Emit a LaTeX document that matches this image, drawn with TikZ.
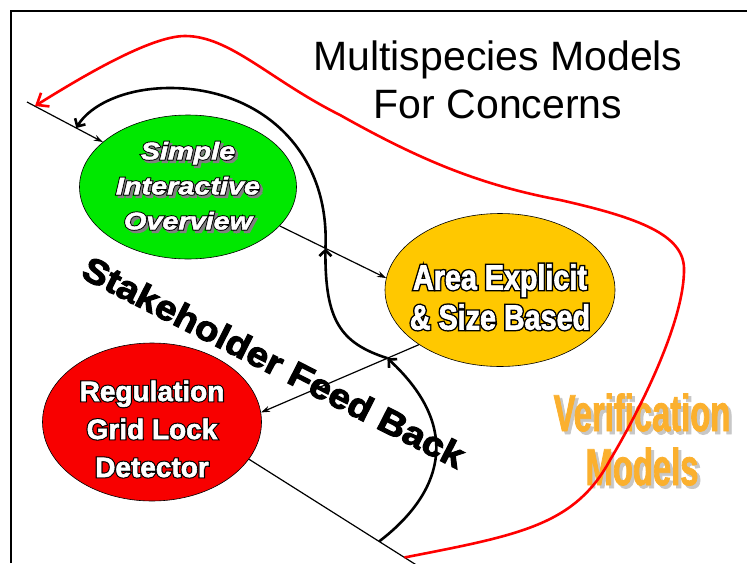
\documentclass[tikz,border=0pt]{standalone}
\usepackage{fontspec}
\setmainfont{Liberation Sans}
\newfontfamily\gridfont[BoldFeatures={FakeBold=2}]{Liberation Sans}
\newfontfamily\gridback[BoldFeatures={FakeBold=10}]{Liberation Sans}
\newfontfamily\areafont[FakeStretch=0.82,BoldFeatures={FakeBold=2}]{Liberation Sans}
\newfontfamily\areaback[FakeStretch=0.82,BoldFeatures={FakeBold=10}]{Liberation Sans}
\newfontfamily\simplefont[FakeStretch=1.2,BoldItalicFeatures={FakeBold=2}]{Liberation Sans}
\newfontfamily\simpleback[FakeStretch=1.2,BoldItalicFeatures={FakeBold=10}]{Liberation Sans}
\newfontfamily\heavyfont[FakeStretch=1.1,BoldFeatures={FakeBold=3}]{Liberation Sans}
\newfontfamily\condfont[FakeStretch=0.63,BoldFeatures={FakeBold=1.5}]{Liberation Sans}
\usetikzlibrary{shapes.geometric,arrows.meta}

\definecolor{simplegreen}{HTML}{00E800}
\definecolor{areayellow}{HTML}{FFC800}
\definecolor{gridred}{HTML}{F80000}
\definecolor{verifyorange}{HTML}{FBB02E}

% white letters on a fattened black copy
\newcommand\rimtext[3][0pt]{\leavevmode\raisebox{-#1}[\height][\depth]{%
  \rlap{\color{black}#2#3}\textcolor{white}{#3}}}
\newcommand\shadetext[2]{\leavevmode
  \rlap{\hspace*{2.5pt}\raisebox{-2.5pt}{\color{gray}#1#2}}\rimtext{#1}{#2}}
\newcommand\verifytext[1]{\leavevmode
  \rlap{\hspace*{3pt}\raisebox{-3pt}{\color{black!22}#1}}\textcolor{verifyorange}{#1}}

\begin{document}
\begin{tikzpicture}[
  x=1pt, y=-1pt,
  blob/.style={draw, ellipse, line width=0.6pt, inner xsep=-25pt, inner ysep=-10pt, fill=#1},
  link/.style={-{Stealth[length=9pt,width=6pt]}, line width=1.2pt},
  loopback/.style={-{Straight Barb[length=6pt,width=12pt]}, line width=2.6pt},
  verify/.style={-{Straight Barb[length=10pt,width=16pt]}, draw=red, line width=2.6pt}
]
\useasboundingbox (0,0) rectangle (747,563);
\clip (0,0) rectangle (747,563);
\draw[line width=2pt] (11,563) -- (11,11) -- (747,11);

% ellipses
\node[blob=simplegreen, minimum width=217pt, minimum height=144pt, align=center,
  font=\simplefont\bfseries\itshape\fontsize{24}{35}\selectfont] (simple) at (188,187)
  {\shadetext{\simpleback}{Simple}\\\shadetext{\simpleback}{Interactive}\\
   \shadetext{\simpleback}{Overview}};
\node[blob=areayellow, minimum width=230pt, minimum height=153pt, align=center,
  font=\areafont\bfseries\fontsize{35}{40}\selectfont] (area) at (500,290)
  {\rimtext[7pt]{\areaback}{Area Explicit}\\\rimtext[7pt]{\areaback}{\& Size Based}};
\node[blob=gridred, minimum width=219pt, minimum height=158pt, align=center,
  font=\gridfont\bfseries\fontsize{28}{38}\selectfont] (regulation) at (152,422)
  {\rimtext[7pt]{\gridback}{Regulation}\\\rimtext[7pt]{\gridback}{Grid Lock}\\
   \rimtext[7pt]{\gridback}{Detector}};

% texts
\node[align=center, font=\fontsize{41}{48}\selectfont] (title) at (498,80)
  {Multispecies Models\\For Concerns};
\node[rotate=-27, font=\heavyfont\bfseries\fontsize{35}{40}\selectfont] (fblabel) at (274,362)
  {Stakeholder Feed Back};
\node[align=center, font=\condfont\bfseries\fontsize{52}{54}\selectfont] (verif) at (642,441)
  {\verifytext{Verification}\\\verifytext{Models}};

% thin chain
\coordinate (chainstart) at (27,102);
\coordinate (chainend) at (418,566);
\draw[link] (chainstart) -- coordinate[pos=0.65] (fb3) (simple);
\draw[link] (simple.-23) -- coordinate[pos=0.43] (fb2) (area.174);
\draw[link] (area.214) -- coordinate[pos=0.2] (fb1) (regulation.5);
\draw[line width=1.2pt] (regulation.-21) -- coordinate[pos=0.77] (fb0)
  coordinate[pos=0.92] (redstart) (chainend);

% feed back loop
\draw[loopback] (fb0) .. controls (440,495) and (465,430) .. (fb1);
\draw[loopback] (fb1) .. controls (340,343) and (325,320) .. (fb2);
\draw[loopback] (fb2) .. controls (330,150) and (260,88) .. (170,88)
  .. controls (125,88) and (90,105) .. (fb3);

% verification loop
\coordinate (redtip) at (35,106);
\draw[verify] (redstart) .. controls (520,535) and (575,525) .. (610,460)
  .. controls (640,410) and (685,320) .. (684,268)
  .. controls (683,235) and (640,218) .. (560,200)
  .. controls (480,185) and (420,160) .. (340,115)
  .. controls (270,80) and (230,36) .. (185,36)
  .. controls (150,36) and (80,78) .. (redtip);
\end{tikzpicture}
\end{document}
